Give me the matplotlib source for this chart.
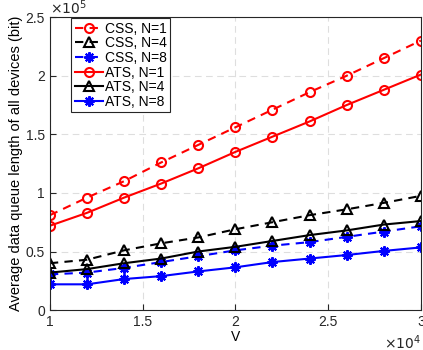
import numpy as np
import matplotlib
matplotlib.use('Agg')
import matplotlib.pyplot as plt
from matplotlib.ticker import FuncFormatter

plt.rcParams['font.family'] = 'Liberation Sans'
plt.rcParams['font.size'] = 10

V = [10000, 12000, 14000, 16000, 18000, 20000, 22000, 24000, 26000, 28000, 30000]

css_n1 = [0.81, 0.96, 1.10, 1.26, 1.41, 1.56, 1.71, 1.86, 2.00, 2.15, 2.30]
css_n4 = [0.40, 0.43, 0.51, 0.57, 0.62, 0.69, 0.75, 0.81, 0.86, 0.915, 0.975]
css_n8 = [0.305, 0.32, 0.36, 0.41, 0.46, 0.51, 0.55, 0.58, 0.625, 0.67, 0.715]
ats_n1 = [0.72, 0.83, 0.96, 1.08, 1.21, 1.35, 1.48, 1.61, 1.75, 1.88, 2.01]
ats_n4 = [0.32, 0.35, 0.40, 0.44, 0.50, 0.54, 0.59, 0.64, 0.68, 0.73, 0.76]
ats_n8 = [0.22, 0.22, 0.265, 0.29, 0.33, 0.365, 0.41, 0.44, 0.47, 0.505, 0.535]

# asterisk marker like MATLAB's '*'
ASTER = (8, 2, 0)

series = [
    ('CSS, N=1', css_n1, 'red', '--', 'o'),
    ('CSS, N=4', css_n4, 'black', '--', '^'),
    ('CSS, N=8', css_n8, 'blue', '--', ASTER),
    ('ATS, N=1', ats_n1, 'red', '-', 'o'),
    ('ATS, N=4', ats_n4, 'black', '-', '^'),
    ('ATS, N=8', ats_n8, 'blue', '-', ASTER),
]

fig = plt.figure(figsize=(4.23, 3.5), dpi=100)
ax = fig.add_axes([0.118, 0.114, 0.877, 0.837])

for label, vals, color, ls, mk in series:
    y = np.array(vals) * 1e5
    ax.plot(V, y, linestyle=ls, color=color, marker=mk,
            markersize=6.5 if mk != ASTER else 7.5,
            markerfacecolor='none', markeredgecolor=color, markeredgewidth=1.5,
            linewidth=1.5, label=label, dashes=(4, 3) if ls == '--' else (None, None))

ax.set_xlim(10000, 30000)
ax.set_ylim(0, 2.5e5)
ax.set_xticks([10000, 15000, 20000, 25000, 30000])
ax.set_yticks([0, 0.5e5, 1e5, 1.5e5, 2e5, 2.5e5])
ax.xaxis.set_major_formatter(FuncFormatter(lambda v, p: f'{v / 1e4:g}'))
ax.yaxis.set_major_formatter(FuncFormatter(lambda v, p: f'{v / 1e5:g}'))
ax.tick_params(direction='in', length=4, labelsize=10, colors='#262626')
ax.grid(True, linestyle=(0, (6, 4)), color='#dedede', linewidth=0.8)
for sp in ax.spines.values():
    sp.set_color('#262626')
    sp.set_linewidth(0.8)

ax.text(0.0, 1.0, r'$\times10^5$', transform=ax.transAxes, ha='left', va='bottom',
        fontsize=10, color='#262626')
ax.text(1.0, -0.08, r'$\times10^4$', transform=ax.transAxes, ha='right', va='top',
        fontsize=10, color='#262626')

ax.set_xlabel('V', labelpad=1)
ax.set_ylabel('Average data queue length of all devices (bit)', labelpad=2, fontsize=10.5)

leg = ax.legend(loc='upper left', bbox_to_anchor=(0.058, 0.997), borderaxespad=0,
                fontsize=10, handlelength=2.0, handletextpad=0.15, borderpad=0.25,
                labelspacing=0.05, fancybox=False, framealpha=1)
leg.get_frame().set_edgecolor('#262626')
leg.get_frame().set_linewidth(0.8)

fig.savefig('out.png', dpi=100, facecolor='white')
